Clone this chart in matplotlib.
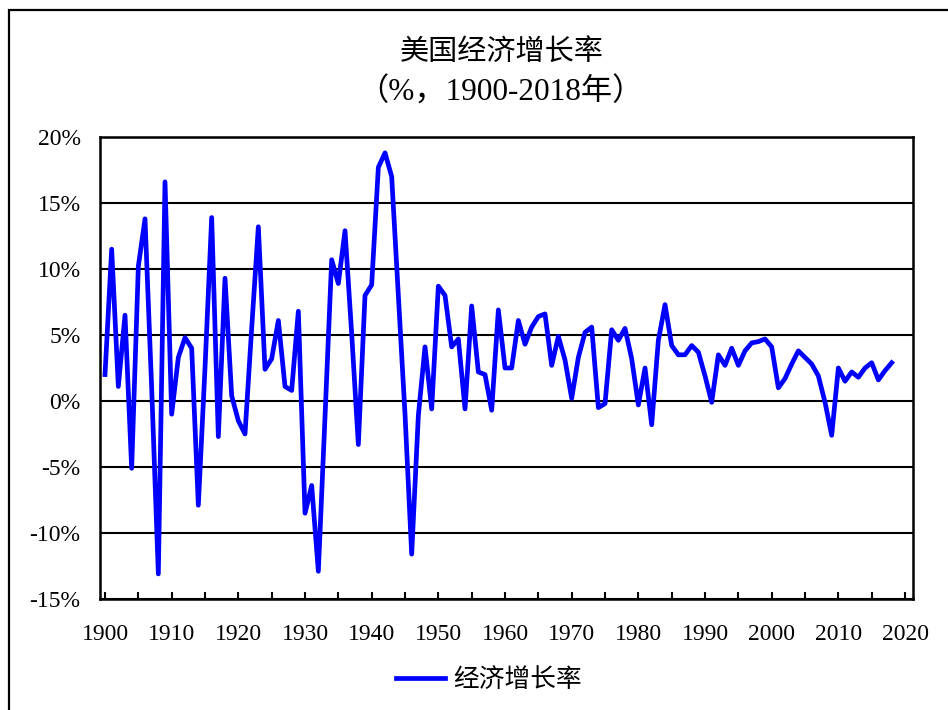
import numpy as np
import matplotlib
matplotlib.use("Agg")
import matplotlib.pyplot as plt
from matplotlib.patches import Rectangle

years = np.arange(1900, 2019)
growth = [
    2.0, 11.5, 1.1, 6.5, -5.1, 10.2, 13.8, 1.0, -13.1, 16.6,      # 1900s
    -1.0, 3.3, 4.8, 4.0, -7.9, 2.5, 13.9, -2.7, 9.3, 0.4,         # 1910s
    -1.5, -2.5, 5.5, 13.2, 2.4, 3.2, 6.1, 1.1, 0.8, 6.8,          # 1920s
    -8.5, -6.4, -12.9, -1.2, 10.7, 8.9, 12.9, 5.1, -3.3, 8.0,     # 1930s
    8.8, 17.7, 18.8, 17.0, 8.0, -1.0, -11.6, -1.1, 4.1, -0.6,     # 1940s
    8.7, 8.0, 4.1, 4.7, -0.6, 7.2, 2.2, 2.0, -0.7, 6.9,           # 1950s
    2.5, 2.5, 6.1, 4.3, 5.6, 6.4, 6.6, 2.7, 4.9, 3.1,             # 1960s
    0.2, 3.3, 5.2, 5.6, -0.5, -0.2, 5.4, 4.6, 5.5, 3.2,           # 1970s
    -0.3, 2.5, -1.8, 4.6, 7.3, 4.2, 3.5, 3.5, 4.2, 3.7,           # 1980s
    1.9, -0.1, 3.5, 2.7, 4.0, 2.7, 3.8, 4.4, 4.5, 4.7,            # 1990s
    4.1, 1.0, 1.7, 2.8, 3.8, 3.3, 2.8, 1.9, -0.1, -2.6,           # 2000s
    2.5, 1.5, 2.2, 1.8, 2.5, 2.9, 1.6, 2.3, 2.9,                  # 2010s
]
y_ticks = [-15, -10, -5, 0, 5, 10, 15, 20]
x_ticks = list(range(1900, 2021, 5))

FONT = ["Liberation Serif", "Noto Sans CJK SC", "DejaVu Sans"]
plt.rcParams["font.family"] = FONT

W, H = 948, 710
fig = plt.figure(figsize=(W / 100, H / 100), dpi=100, facecolor="white")

# outer chart frame (only left/top edges fall inside the picture)
fig.add_artist(Rectangle((9 / W, -0.05), 1.2, 1 - 10 / H + 0.05,
                         transform=fig.transFigure, fill=False,
                         edgecolor="black", lw=1.6))

ax = fig.add_axes([100 / W, 1 - 599 / H, 812.7 / W, 462 / H])
ax.plot(years, growth, color="#0000FF", lw=3.4, label="经济增长率",
        solid_joinstyle="round")

ax.set_xlim(1899.25, 2021.15)
ax.set_ylim(-15, 20)
ax.set_yticks(y_ticks)
ax.set_yticklabels([f"{v}%" for v in y_ticks])
ax.tick_params(axis="y", length=0, pad=14, labelsize=17)
ax.set_xticks(x_ticks)
ax.set_xticklabels([str(y) if y % 10 == 0 else "" for y in x_ticks])
ax.tick_params(axis="x", direction="in", length=5, width=1.5, pad=18,
               labelsize=17)
ax.grid(axis="y", color="black", lw=1.5)
ax.set_axisbelow(True)
for s in ax.spines.values():
    s.set_linewidth(1.8)
    s.set_color("black")

fig.text(502 / W, 1 - 52 / H, "美国经济增长率", ha="center", va="center",
         fontsize=21, family=["Noto Sans CJK SC"])
fig.text(500 / W, 1 - 93 / H, "（%，1900-2018年）", ha="center", va="center",
         fontsize=22.5, family=FONT)

fig.legend(loc="center", bbox_to_anchor=(489 / W, 1 - 680 / H), frameon=False,
           prop={"family": ["Noto Sans CJK SC"], "size": 18.5},
           handlelength=1.9, handletextpad=0.3)

fig.savefig("out.png", dpi=100)
